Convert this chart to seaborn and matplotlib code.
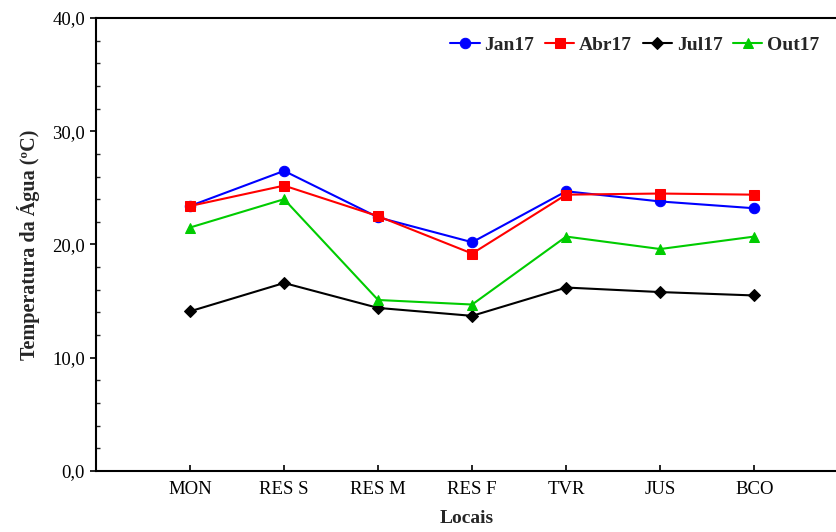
import matplotlib
matplotlib.use("Agg")
import matplotlib.pyplot as plt
from matplotlib.ticker import MultipleLocator, FuncFormatter
import seaborn as sns
import pandas as pd

# Sampling sites and water temperature (ºC) per campaign
locais = ["MON", "RES S", "RES M", "RES F", "TVR", "JUS", "BCO"]
jan17 = [23.4, 26.5, 22.4, 20.2, 24.7, 23.8, 23.2]
abr17 = [23.4, 25.2, 22.5, 19.2, 24.4, 24.5, 24.4]
jul17 = [14.1, 16.6, 14.4, 13.7, 16.2, 15.8, 15.5]
out17 = [21.5, 24.0, 15.1, 14.7, 20.7, 19.6, 20.7]

series = [
    ("Jan17", jan17, "#0000ff", "o"),
    ("Abr17", abr17, "#ff0000", "s"),
    ("Jul17", jul17, "#000000", "D"),
    ("Out17", out17, "#00cc00", "^"),
]

sns.set_theme(style="white")
plt.rcParams["font.family"] = ["Liberation Serif", "DejaVu Serif"]

fig = plt.figure(figsize=(8.37, 5.32), dpi=100)
ax = fig.add_axes([96 / 837, 61 / 532, 1 - 96 / 837, (471 - 18) / 532])

for name, vals, color, marker in series:
    df = pd.DataFrame({"pos": range(len(locais)), "temp": vals})
    sns.lineplot(data=df, x="pos", y="temp", ax=ax, color=color, marker=marker,
                 markersize=7.5 if marker != "D" else 6.5, markeredgecolor=color,
                 markerfacecolor=color, linewidth=1.5, label=name)

ax.set_xlim(-1, 6.88)
ax.set_ylim(0, 40)
ax.set_xticks(range(len(locais)))
ax.set_xticklabels(locais)
ax.yaxis.set_major_locator(MultipleLocator(10))
ax.yaxis.set_minor_locator(MultipleLocator(2))
ax.yaxis.set_major_formatter(FuncFormatter(lambda v, p: f"{v:.1f}".replace(".", ",")))

for s in ["left", "bottom", "top"]:
    ax.spines[s].set_visible(True)
    ax.spines[s].set_color("black")
    ax.spines[s].set_linewidth(1.5)
ax.spines["right"].set_visible(False)

ax.tick_params(axis="x", which="major", direction="in", length=4, width=1.2,
               bottom=True, labelsize=13.5, pad=7, colors="black")
ax.tick_params(axis="y", which="major", direction="out", length=4, width=1.2,
               left=True, labelsize=13.5, pad=4, colors="black")
ax.tick_params(axis="y", which="minor", direction="in", length=3, width=1.0, left=True)

ax.set_xlabel("Locais", fontsize=14, fontweight="bold", labelpad=9)
ax.set_ylabel("Temperatura da Água (ºC)", fontsize=14.5, fontweight="bold", labelpad=9)

leg = ax.legend(loc="upper right", bbox_to_anchor=(1.0, 0.998), ncol=4, frameon=False,
                prop={"weight": "bold", "size": 14}, handlelength=1.5,
                columnspacing=0.55, handletextpad=0.25)

fig.savefig("out.png", dpi=100)
